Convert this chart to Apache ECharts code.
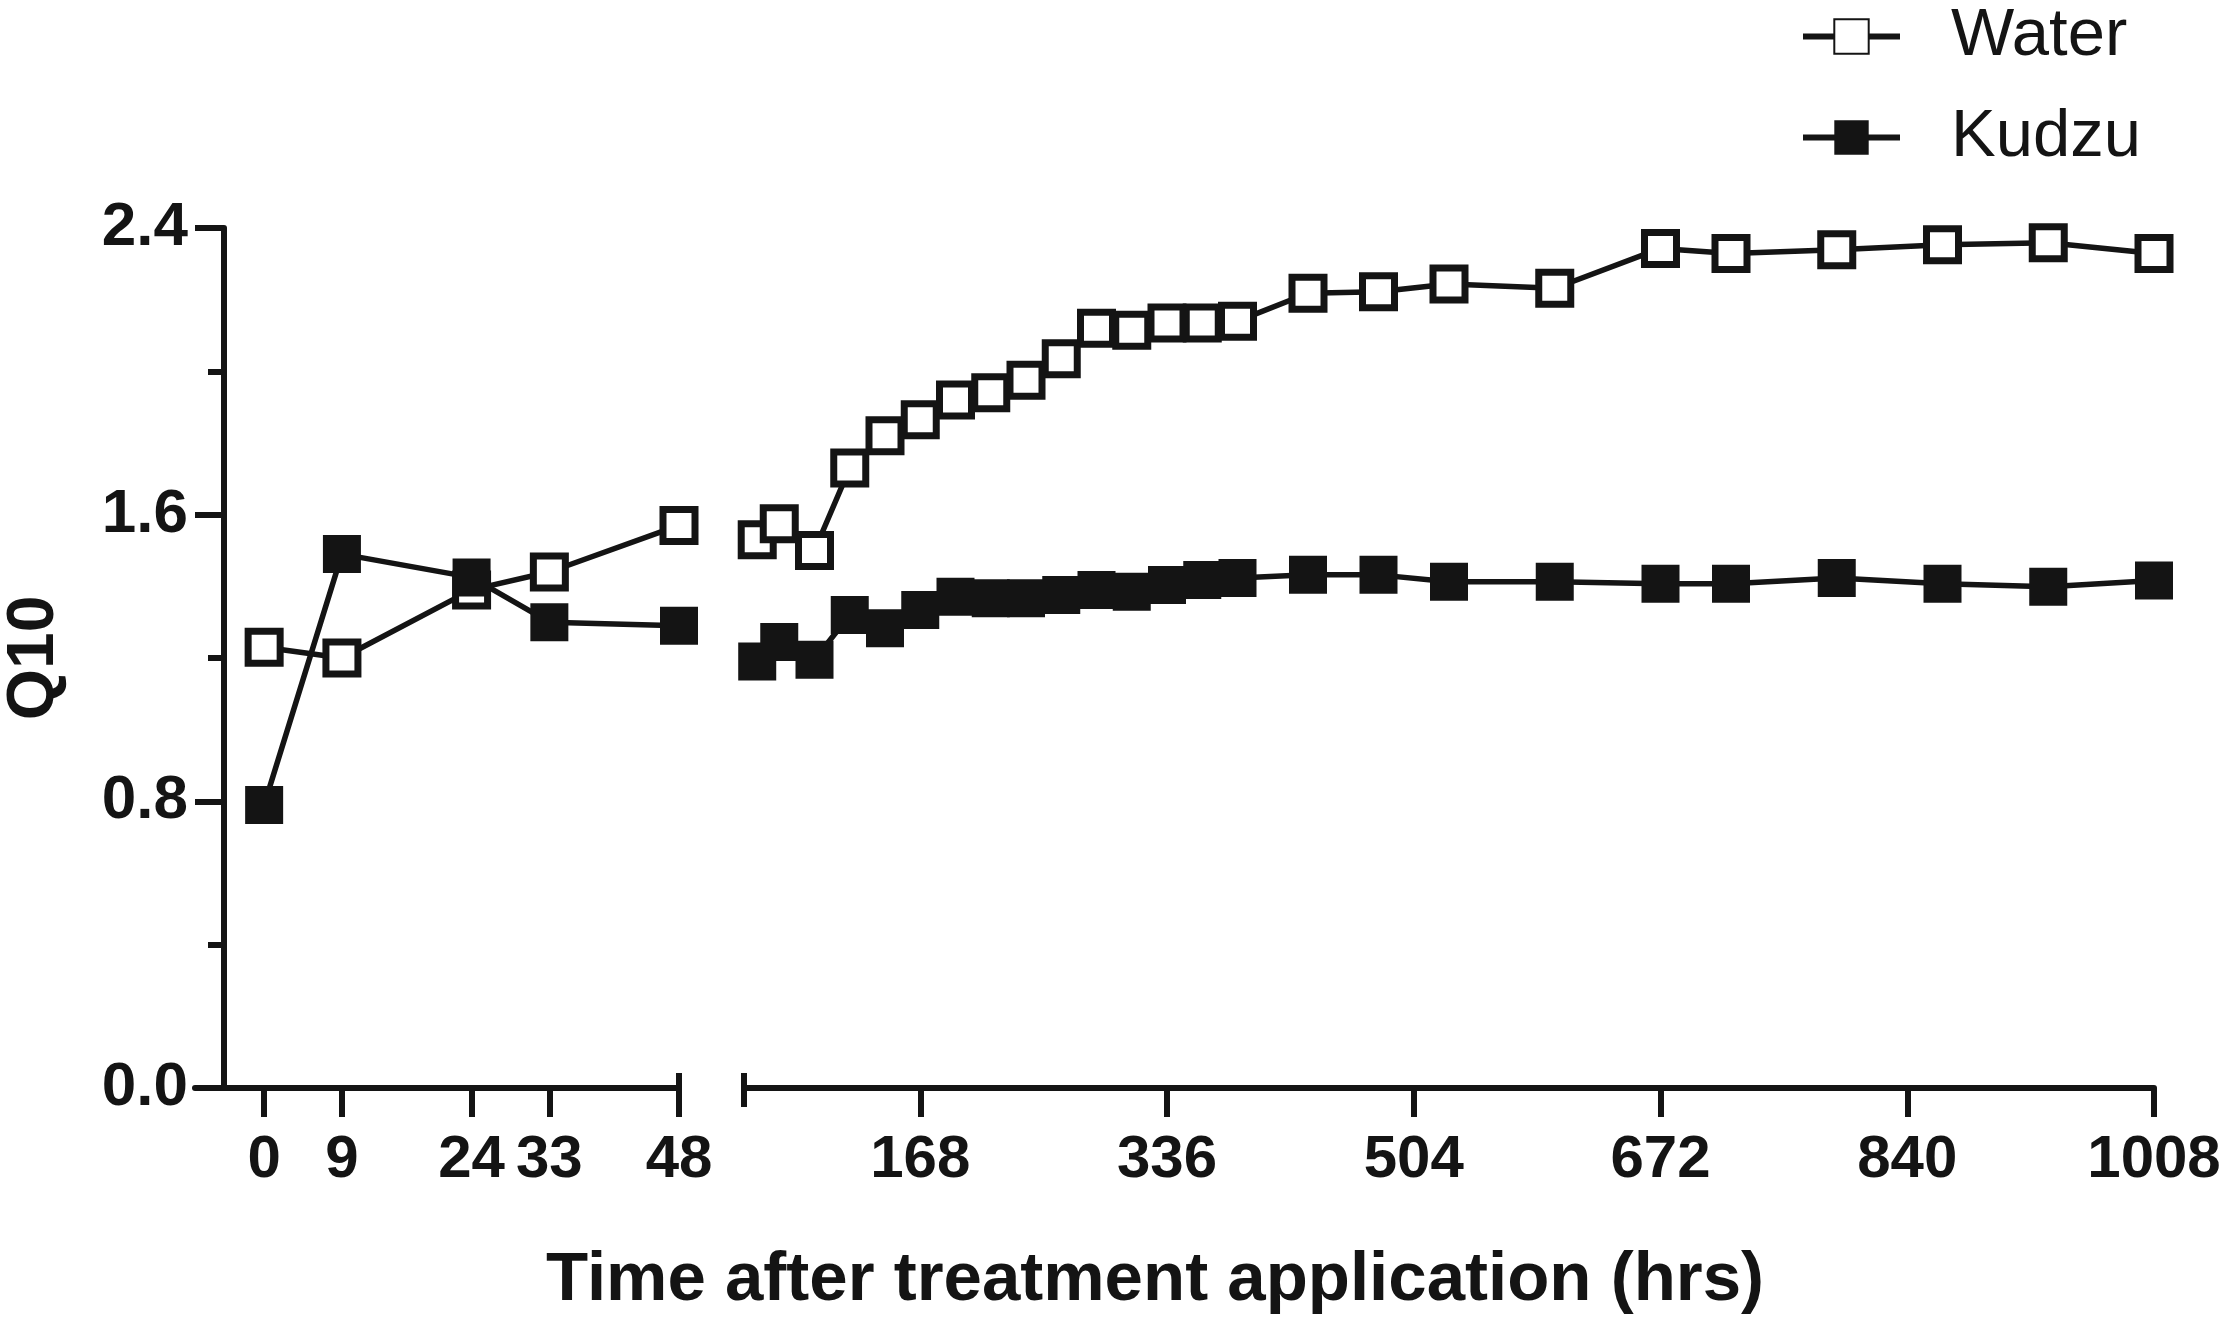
<!DOCTYPE html>
<html>
<head>
<meta charset="utf-8">
<script src="https://cdn.jsdelivr.net/npm/echarts@6/dist/echarts.min.js"></script>
<style>
html,body{margin:0;padding:0;background:#ffffff;}
#chart{width:2228px;height:1320px;}
</style>
</head>
<body>
<div id="chart"></div>
<script>
// ---- data (hours after treatment, Q10 values) ----
const leftHours  = [0, 9, 24, 33, 48];
const rightHours = [57, 72, 96, 120, 144, 168, 192, 216, 240, 264, 288, 312, 336, 360, 384,
                    432, 480, 528, 600, 672, 720, 792, 864, 936, 1008];

const waterLeft  = [1.23, 1.20, 1.39, 1.44, 1.57];
const kudzuLeft  = [0.79, 1.49, 1.425, 1.30, 1.29];

const waterRight = [1.53, 1.575, 1.50, 1.73, 1.82, 1.865, 1.92, 1.94, 1.975, 2.035, 2.12, 2.115, 2.135, 2.135, 2.14,
                    2.218, 2.222, 2.244, 2.232, 2.343, 2.329, 2.339, 2.353, 2.359, 2.329];
const kudzuRight = [1.19, 1.245, 1.195, 1.32, 1.283, 1.334, 1.371, 1.367, 1.367, 1.376, 1.39, 1.385, 1.404, 1.418, 1.423,
                    1.432, 1.432, 1.413, 1.413, 1.407, 1.407, 1.423, 1.407, 1.399, 1.416];

const leftTicks  = [0, 9, 24, 33, 48];
const rightTicks = [168, 336, 504, 672, 840, 1008];
const breakTick  = [48];
const yMin = 0, yMax = 2.4, yStep = 0.8;

const seriesNames = ['Water', 'Kudzu'];
const xTitle = 'Time after treatment application (hrs)';
const yTitle = 'Q10';

// ---- styling ----
const INK = '#141414';
const FONT = '"Liberation Sans", Arial, Helvetica, sans-serif';
const AXW = 6;

function zip(xs, ys) { return xs.map((x, i) => [x, ys[i]]); }

const plotTop = 228, plotH = 860;
const gridL = {left: 195, top: plotTop, width: 484, height: plotH};
const gridR = {left: 744, top: plotTop, width: 1410, height: plotH};

const hiddenY = (gi) => ({gridIndex: gi, type: 'value', min: yMin, max: yMax, show: false});

const waterStyle = {
  type: 'line', symbol: 'rect', symbolSize: 32, clip: false, z: 2,
  itemStyle: {color: '#ffffff', borderColor: INK, borderWidth: 7},
  lineStyle: {color: INK, width: 5.5},
  emphasis: {disabled: true}
};
const kudzuStyle = {
  type: 'line', symbol: 'rect', symbolSize: 38, clip: false, z: 3,
  itemStyle: {color: INK, borderColor: INK, borderWidth: 0},
  lineStyle: {color: INK, width: 5.5},
  emphasis: {disabled: true}
};

const tickLabel = {margin: 42, fontSize: 60, fontWeight: 'bold', fontFamily: FONT, color: INK,
                   formatter: v => String(v)};

const option = {
  animation: false,
  backgroundColor: '#ffffff',
  title: {
    text: xTitle,
    left: 546,
    top: 1246,
    padding: 0,
    textStyle: {fontSize: 69, fontWeight: 'bold', fontFamily: FONT, color: INK}
  },
  legend: {
    data: seriesNames,
    orient: 'vertical',
    left: 1800, top: 3,
    padding: 0,
    itemWidth: 97, itemHeight: 43, itemGap: 34,
    lineStyle: {width: 6, color: INK},
    textStyle: {fontSize: 67, fontFamily: FONT, color: INK, padding: [0, 0, 0, 46]}
  },
  grid: [
    gridL, gridR,
    Object.assign({}, gridL), // break cap (left, upward part)
    Object.assign({}, gridR), // break cap (right, upward part)
    Object.assign({}, gridR)  // break cap (right, downward part)
  ],
  xAxis: [
    { gridIndex: 0, type: 'value', min: -8, max: 48,
      axisLine: {show: true, onZero: false, lineStyle: {color: INK, width: AXW}},
      axisTick: {show: true, customValues: leftTicks, length: 29, lineStyle: {color: INK, width: AXW}},
      axisLabel: Object.assign({show: true, customValues: leftTicks}, tickLabel),
      splitLine: {show: false}
    },
    { gridIndex: 1, type: 'value', min: 48, max: 1008,
      axisLine: {show: true, onZero: false, lineStyle: {color: INK, width: AXW}},
      axisTick: {show: true, customValues: rightTicks, length: 29, lineStyle: {color: INK, width: AXW}},
      axisLabel: Object.assign({show: true, customValues: rightTicks}, tickLabel),
      splitLine: {show: false}
    },
    { gridIndex: 2, type: 'value', min: -8, max: 48,
      axisLine: {show: false, onZero: false},
      axisTick: {show: true, inside: true, customValues: breakTick, length: 15, lineStyle: {color: INK, width: AXW}},
      axisLabel: {show: false}, splitLine: {show: false}
    },
    { gridIndex: 3, type: 'value', min: 48, max: 1008,
      axisLine: {show: false, onZero: false},
      axisTick: {show: true, inside: true, customValues: breakTick, length: 15, lineStyle: {color: INK, width: AXW}},
      axisLabel: {show: false}, splitLine: {show: false}
    },
    { gridIndex: 4, type: 'value', min: 48, max: 1008,
      axisLine: {show: false, onZero: false},
      axisTick: {show: true, inside: false, customValues: breakTick, length: 19, lineStyle: {color: INK, width: AXW}},
      axisLabel: {show: false}, splitLine: {show: false}
    }
  ],
  yAxis: [
    { gridIndex: 0, type: 'value', min: yMin, max: yMax, interval: yStep, offset: -29,
      name: yTitle, nameLocation: 'middle', nameGap: 156, nameRotate: 90,
      nameTextStyle: {fontSize: 66, fontWeight: 'bold', fontFamily: FONT, color: INK},
      axisLine: {show: true, onZero: false, lineStyle: {color: INK, width: AXW}},
      axisTick: {show: true, length: 29, lineStyle: {color: INK, width: AXW}},
      minorTick: {show: true, splitNumber: 2, length: 16, lineStyle: {color: INK, width: AXW}},
      axisLabel: {margin: 36, fontSize: 62, fontWeight: 'bold', fontFamily: FONT, color: INK,
                  formatter: v => v.toFixed(1)},
      splitLine: {show: false}, minorSplitLine: {show: false}
    },
    hiddenY(1), hiddenY(2), hiddenY(3), hiddenY(4)
  ],
  series: [
    Object.assign({name: seriesNames[0], xAxisIndex: 0, yAxisIndex: 0, data: zip(leftHours, waterLeft)}, waterStyle),
    Object.assign({name: seriesNames[0], xAxisIndex: 1, yAxisIndex: 1, data: zip(rightHours, waterRight)}, waterStyle),
    Object.assign({name: seriesNames[1], xAxisIndex: 0, yAxisIndex: 0, data: zip(leftHours, kudzuLeft)}, kudzuStyle),
    Object.assign({name: seriesNames[1], xAxisIndex: 1, yAxisIndex: 1, data: zip(rightHours, kudzuRight)}, kudzuStyle)
  ]
};

const chart = echarts.init(document.getElementById('chart'));
chart.setOption(option);
</script>
</body>
</html>
